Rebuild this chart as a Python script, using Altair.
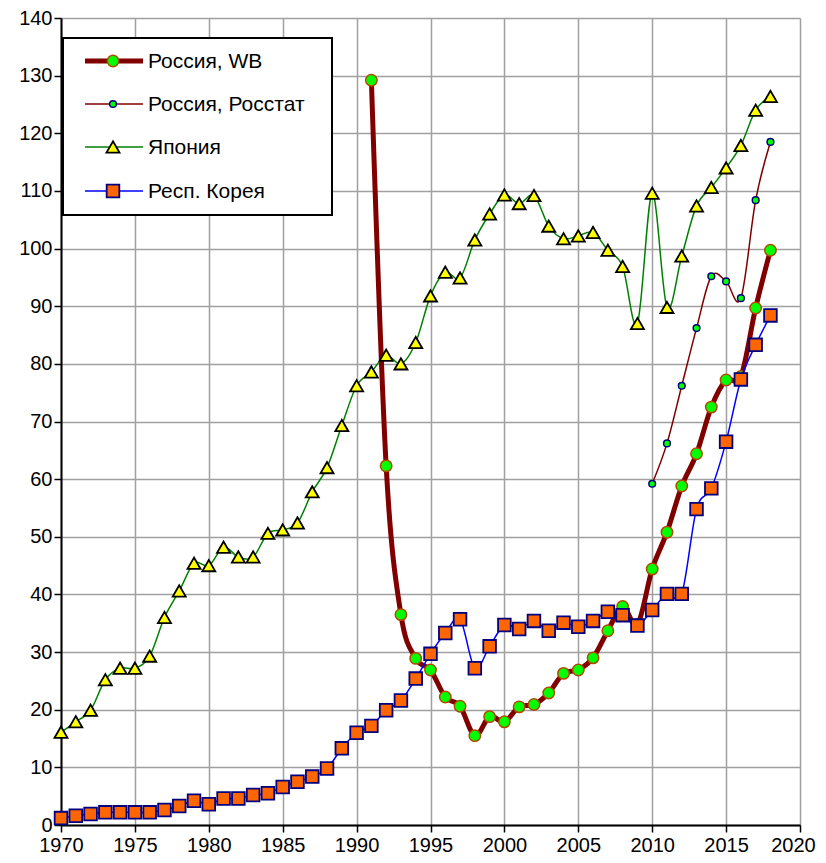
import altair as alt
import pandas as pd

years_all = list(range(1970, 2019))
years_wb = list(range(1991, 2019))
years_rs = list(range(2010, 2019))

russia_wb = [129.2, 62.3, 36.5, 28.9, 26.9, 22.2, 20.6, 15.5, 18.8, 17.9,
             20.5, 20.9, 22.9, 26.3, 26.9, 29.0, 33.7, 37.9, 34.8, 44.4,
             50.8, 58.8, 64.4, 72.5, 77.2, 77.8, 89.7, 99.7]
russia_rosstat = [59.2, 66.2, 76.2, 86.2, 95.2, 94.3, 91.4, 108.4, 118.5]
japan = [16.1, 17.9, 19.9, 25.2, 27.2, 27.2, 29.3, 36.0, 40.6, 45.4,
         45.0, 48.2, 46.5, 46.5, 50.6, 51.2, 52.4, 57.8, 62.0, 69.3,
         76.2, 78.6, 81.5, 80.0, 83.7, 91.8, 95.9, 94.9, 101.5, 106.0,
         109.3, 107.8, 109.2, 103.9, 101.7, 102.2, 102.8, 99.7, 96.9, 87.0,
         109.6, 89.8, 98.7, 107.4, 110.6, 114.0, 117.9, 124.0, 126.4]
korea = [1.2, 1.6, 1.9, 2.2, 2.2, 2.2, 2.2, 2.6, 3.3, 4.2,
         3.6, 4.6, 4.6, 5.2, 5.5, 6.6, 7.5, 8.4, 9.8, 13.3,
         16.0, 17.2, 19.9, 21.6, 25.4, 29.7, 33.3, 35.7, 27.2, 31.0,
         34.7, 34.0, 35.4, 33.7, 35.1, 34.4, 35.4, 37.0, 36.4, 34.6,
         37.3, 40.1, 40.1, 54.8, 58.4, 66.5, 77.3, 83.3, 88.4]

names = ["Россия, WB", "Россия, Росстат", "Япония", "Респ. Корея"]

x_ticks = list(range(1970, 2021, 5))
y_ticks = list(range(0, 141, 10))

FONT = "Liberation Sans"

X = alt.X("year:Q", scale=alt.Scale(domain=[1970, 2020], nice=False, zero=False),
          axis=alt.Axis(values=x_ticks, format="d", title=None, labelFlush=False,
                        labelPadding=3,
                        labelOffset=alt.ExprRef(expr="datum.value == 2020 ? -7 : 0")))
Y = alt.Y("value:Q", scale=alt.Scale(domain=[0, 140], nice=False),
          axis=alt.Axis(values=y_ticks, title=None, labelPadding=2))

styles = [
    dict(line="#800000", lw=5, shape="circle", fill="#00FF00", stroke="#B04A00", sw=1.5, size=130),
    dict(line="#800000", lw=1.5, shape="circle", fill="#00FF00", stroke="#000080", sw=1.5, size=45),
    dict(line="#008000", lw=1.5, shape="triangle-up", fill="#FFFF00", stroke="#000000", sw=1.8, size=170),
    dict(line="#0000FF", lw=1.5, shape="square", fill="#FF6600", stroke="#000080", sw=1.8, size=160),
]

series = [(years_wb, russia_wb), (years_rs, russia_rosstat), (years_all, japan), (years_all, korea)]

layers = []
for (yrs, vals), name, st in zip(series, names, styles):
    df = pd.DataFrame({"year": yrs, "value": vals, "series": name})
    base = alt.Chart(df)
    layers.append(base.mark_line(interpolate="cardinal", color=st["line"],
                                 strokeWidth=st["lw"]).encode(x=X, y=Y))
    layers.append(base.mark_point(shape=st["shape"], filled=True, fill=st["fill"],
                                  stroke=st["stroke"], strokeWidth=st["sw"],
                                  size=st["size"], opacity=1).encode(x=X, y=Y))

# Legend box drawn inside the plot area
one = pd.DataFrame({"k": [0]})
layers.append(alt.Chart(one).mark_rect(fill="white", stroke="black", strokeWidth=2).encode(
    x=alt.value(2), x2=alt.value(271), y=alt.value(20), y2=alt.value(197)))
ly = [43, 86, 129, 173]
for name, st, yy in zip(names, styles, ly):
    layers.append(alt.Chart(one).mark_rule(color=st["line"], strokeWidth=st["lw"]).encode(
        x=alt.value(24), x2=alt.value(82), y=alt.value(yy)))
    layers.append(alt.Chart(one).mark_point(shape=st["shape"], filled=True, fill=st["fill"],
                                            stroke=st["stroke"], strokeWidth=st["sw"],
                                            size=st["size"], opacity=1).encode(
        x=alt.value(52), y=alt.value(yy)))
    layers.append(alt.Chart(one).mark_text(text=name, align="left", baseline="middle",
                                           font=FONT, fontSize=21, color="black").encode(
        x=alt.value(87), y=alt.value(yy + 1)))

chart = alt.layer(*layers).properties(
    width=739, height=807,
    autosize=alt.AutoSizeParams(type="none"),
    padding={"left": 53, "top": 10, "right": 17, "bottom": 30},
).configure_axis(
    labelFont=FONT, labelFontSize=20, labelColor="black",
    gridColor="#A0A0A0", gridWidth=1.5, gridOpacity=1,
    domainColor="black", domainWidth=2,
    tickColor="black", tickWidth=1.5, tickSize=7,
).configure_view(stroke=None)

chart.save("out.html", embed_options={"renderer": "svg", "actions": False})
